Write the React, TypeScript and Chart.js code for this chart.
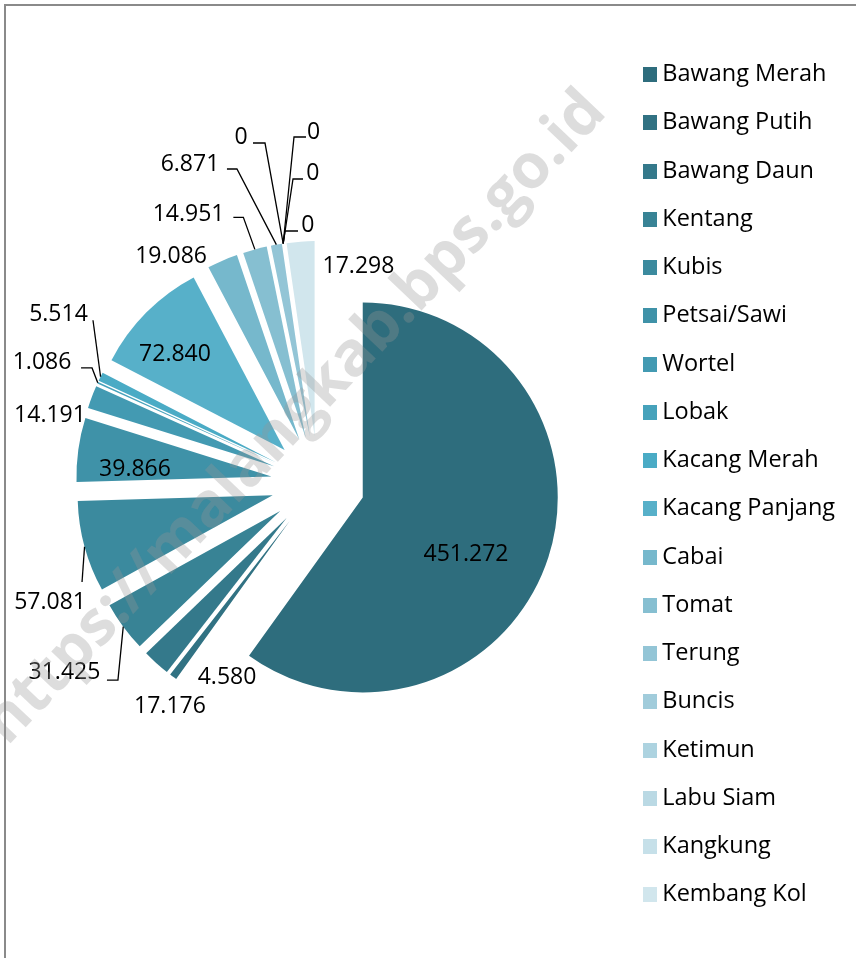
import React, { useEffect, useRef } from 'react';
import { Chart, registerables, ArcElement, PieController } from 'chart.js';

Chart.register(...registerables);

// ---- data ----
const categories = [
  'Bawang Merah', 'Bawang Putih', 'Bawang Daun', 'Kentang', 'Kubis', 'Petsai/Sawi',
  'Wortel', 'Lobak', 'Kacang Merah', 'Kacang Panjang', 'Cabai', 'Tomat', 'Terung',
  'Buncis', 'Ketimun', 'Labu Siam', 'Kangkung', 'Kembang Kol',
];
const values = [
  451.272, 4.58, 17.176, 31.425, 57.081, 39.866, 14.191, 1.086, 5.514, 72.84,
  19.086, 14.951, 6.871, 0, 0, 0, 0, 17.298,
];

// ---- styles ----
const colors = [
  '#2E6D7D', '#317283', '#34798B', '#388395', '#3B8A9E', '#3F92A8', '#439AB2', '#46A2BB',
  '#4AABC5', '#57B0C9', '#76B8CC', '#86BFD1', '#93C5D6', '#A1CCDB', '#ADD3E0', '#BAD9E4',
  '#C6E0E9', '#D1E6ED',
];
const EXPLODE = 47;
const RADIUS = 195;
const FONT = '"Open Sans", "Noto Sans", sans-serif';
const LABEL_SIZE = 23;
const LEGEND_SIZE = 23.5;
const LEGEND_PAD = 24.75;
const LEGEND_LEFT = 623.75;

// label centre offsets from the slice's outer mid point
const labelOffsets: number[][] = [
  [-82.4, -4.1], [53.9, -0.8], [13.8, 42.1], [-58.8, 44.4], [-34.5, 54.3], [56.7, 18.3],
  [-41.8, 17], [-55.7, -21.8], [-42.1, -64], [28.8, 40.4], [-51.4, -5.7], [-66.3, -36.9],
  [-86.4, -81.6], [-42.2, -107.5], [30.3, -113], [29.5, -71.8], [24.5, -20.2], [57.9, 23.4],
];
// leader line points relative to the label centre (then to the slice)
const leaders: Record<number, number[][]> = {
  3: [[42.5, 9], [53.5, 9]],
  4: [[32, -19]],
  7: [[39, 7], [50, 7]],
  8: [[34.5, 7.5]],
  11: [[44.8, 4.8], [54.8, 4.8]],
  12: [[37, 6], [47, 6]],
  13: [[12, 7], [24, 7]],
  14: [[-7.5, 6.5], [-19.5, 6.5]],
  15: [[-9.7, 7.3], [-19.7, 7.3]],
  16: [[-9.7, 7.7], [-22.7, 7.7]],
};

const fmt = (v: number) => (v === 0 ? '0' : v.toFixed(3));

// Arc that is pulled out of the pie along its bisector (Excel-style explosion)
class ExplodedArc extends (ArcElement as any) {
  static id = 'explodedArc';
  static defaults = {};
  draw(ctx: CanvasRenderingContext2D) {
    const mid = (this.startAngle + this.endAngle) / 2;
    ctx.save();
    ctx.translate(Math.cos(mid) * EXPLODE, Math.sin(mid) * EXPLODE);
    super.draw(ctx);
    ctx.restore();
  }
}
class ExplodedPie extends (PieController as any) {
  static id = 'explodedPie';
  static defaults = { dataElementType: 'explodedArc' };
}
Chart.register(ExplodedArc as any, ExplodedPie as any);

const labelPlugin = {
  id: 'sliceLabels',
  afterDatasetsDraw(chart: any) {
    const ctx = chart.ctx;
    const meta = chart.getDatasetMeta(0);
    ctx.save();
    ctx.font = `${LABEL_SIZE}px ${FONT}`;
    ctx.fillStyle = '#000';
    ctx.strokeStyle = '#000';
    ctx.lineWidth = 1.3;
    ctx.textAlign = 'center';
    ctx.textBaseline = 'alphabetic';
    meta.data.forEach((arc: any, i: number) => {
      const { x, y, startAngle, endAngle, outerRadius } = arc.getProps(
        ['x', 'y', 'startAngle', 'endAngle', 'outerRadius'], true);
      const mid = (startAngle + endAngle) / 2;
      const d = EXPLODE + outerRadius;
      const ax = x + Math.cos(mid) * d;
      const ay = y + Math.sin(mid) * d;
      const lx = ax + labelOffsets[i][0];
      const ly = ay + labelOffsets[i][1];
      const pts = leaders[i];
      if (pts) {
        ctx.beginPath();
        ctx.moveTo(lx + pts[0][0], ly + pts[0][1]);
        for (let k = 1; k < pts.length; k++) ctx.lineTo(lx + pts[k][0], ly + pts[k][1]);
        ctx.lineTo(ax, ay);
        ctx.stroke();
      }
      ctx.fillText(fmt(values[i]), lx, ly + LABEL_SIZE * 0.357);
    });
    ctx.restore();
  },
};

const watermarkPlugin = {
  id: 'watermark',
  afterDraw(chart: any) {
    const ctx = chart.ctx;
    ctx.save();
    ctx.translate(295, 418);
    ctx.rotate((-46.5 * Math.PI) / 180);
    ctx.font = `bold 62px ${FONT}`;
    ctx.fillStyle = 'rgba(150,150,150,0.32)';
    ctx.textAlign = 'center';
    ctx.textBaseline = 'middle';
    ctx.fillText('https://malangkab.bps.go.id', 0, 0);
    ctx.restore();
  },
};

function swatch(color: string) {
  const c = document.createElement('canvas');
  c.width = 14;
  c.height = 15;
  const g = c.getContext('2d')!;
  g.fillStyle = color;
  g.fillRect(0, 0, 14, 15);
  return c;
}

export default function App() {
  const ref = useRef<HTMLCanvasElement | null>(null);
  useEffect(() => {
    if (!ref.current) return;
    const swatches = colors.map(swatch);
    // legend width as Chart.js will measure it, so that the legend starts at LEGEND_LEFT
    const m = document.createElement('canvas').getContext('2d')!;
    m.font = `${LEGEND_SIZE}px ${FONT}`;
    const maxText = Math.max(...categories.map((t) => m.measureText(t).width));
    const legendWidth = LEGEND_PAD + 2 + LEGEND_SIZE / 2 + maxText + 10;
    const padRight = 856 - LEGEND_LEFT - legendWidth;

    const chart = new Chart(ref.current, {
      type: 'explodedPie' as any,
      data: {
        labels: categories,
        datasets: [
          {
            data: values,
            backgroundColor: colors,
            borderWidth: 0,
            hoverOffset: 0,
            offset: 0,
          } as any,
        ],
      },
      options: {
        animation: false,
        responsive: false,
        events: [],
        radius: RADIUS,
        layout: { padding: { left: 12.25, right: padRight, top: 34.75, bottom: 26.75 } },
        plugins: {
          tooltip: { enabled: false },
          legend: {
            position: 'right',
            align: 'end',
            labels: {
              usePointStyle: true,
              boxWidth: 2,
              boxHeight: 15,
              padding: LEGEND_PAD,
              color: '#000',
              font: { family: FONT, size: LEGEND_SIZE },
              generateLabels: () =>
                categories.map((t, i) => ({
                  text: t,
                  fillStyle: colors[i],
                  strokeStyle: colors[i],
                  lineWidth: 0,
                  pointStyle: swatches[i],
                  hidden: false,
                  index: i,
                  datasetIndex: 0,
                })),
            },
          },
        },
      } as any,
      plugins: [labelPlugin, watermarkPlugin],
    });
    return () => chart.destroy();
  }, []);

  return (
    <div
      style={{
        position: 'fixed', left: 0, top: 0, width: 856, height: 958,
        overflow: 'hidden', background: '#fff',
      }}
    >
      <div
        style={{
          position: 'absolute', left: 4, top: 4, width: 1000, height: 1100,
          borderLeft: '2px solid #8a8a8a', borderTop: '2px solid #8a8a8a',
        }}
      />
      <canvas
        ref={ref}
        width={856}
        height={958}
        style={{ position: 'absolute', left: 0, top: 0, display: 'block' }}
      />
    </div>
  );
}
